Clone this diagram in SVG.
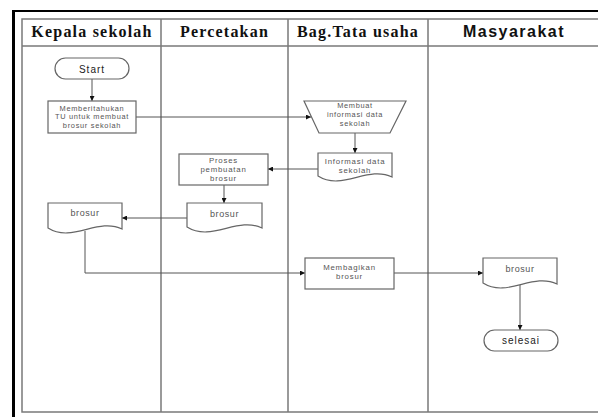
<svg xmlns="http://www.w3.org/2000/svg" width="598" height="417" viewBox="0 0 598 417">
<defs>
<marker id="ah" viewBox="0 0 10 10" refX="10" refY="5" markerWidth="5" markerHeight="5" orient="auto" markerUnits="userSpaceOnUse">
<path d="M0,0 L10,5 L0,10 Z" fill="#111"/>
</marker>
<style>
.frame{stroke:#000;fill:none}
.grid{stroke:#7a7a7a;stroke-width:1.5;fill:none}
.shape{fill:#fff;stroke:#666;stroke-width:1.2}
.conn{fill:none;stroke:#555;stroke-width:1}
.hs{font-family:"Liberation Serif","Times New Roman",serif;font-weight:bold;font-size:16px;letter-spacing:1.2px;text-anchor:middle;fill:#111}
.hsans{font-family:"Liberation Sans",Arial,sans-serif;font-weight:bold;font-size:16px;letter-spacing:1.5px;text-anchor:middle;fill:#111}
.t9{font-family:"Liberation Sans",Arial,sans-serif;font-size:7.4px;letter-spacing:0.7px;text-anchor:middle;fill:#555}
.t10{font-family:"Liberation Sans",Arial,sans-serif;font-size:7.8px;letter-spacing:0.8px;text-anchor:middle;fill:#555}
.t1{font-family:"Liberation Sans",Arial,sans-serif;font-size:9px;letter-spacing:0.6px;text-anchor:middle;fill:#555}
.tt{font-family:"Liberation Sans",Arial,sans-serif;font-size:10px;letter-spacing:1px;text-anchor:middle;fill:#222}
</style>
</defs>
<rect width="598" height="417" fill="#fff"/>
<g id="frame">
<line class="frame" x1="12" y1="11" x2="598" y2="11" stroke-width="2"/>
<line class="frame" x1="13.5" y1="10" x2="13.5" y2="417" stroke-width="3"/>
</g>
<g id="table">
<path class="grid" d="M598,19 H22 V412 H598 M22,46 H598 M161,19 V412 M288,19 V412 M428,19 V412"/>
<text class="hs" x="92" y="37">Kepala sekolah</text>
<text class="hs" x="224.5" y="37">Percetakan</text>
<text class="hs" x="358" y="37">Bag.Tata usaha</text>
<text class="hsans" x="514" y="37">Masyarakat</text>
</g>
<g id="connectors">
<path class="conn" d="M92,79 V101" marker-end="url(#ah)"/>
<path class="conn" d="M136,117 H311" marker-end="url(#ah)"/>
<path class="conn" d="M355,133 V153" marker-end="url(#ah)"/>
<path class="conn" d="M318,169 H268" marker-end="url(#ah)"/>
<path class="conn" d="M224,185 V203" marker-end="url(#ah)"/>
<path class="conn" d="M187,218 H122" marker-end="url(#ah)"/>
<path class="conn" d="M85,231 V273 H305" marker-end="url(#ah)"/>
<path class="conn" d="M394,273 H483" marker-end="url(#ah)"/>
<path class="conn" d="M520,285 V330" marker-end="url(#ah)"/>
</g>
<g id="start">
<rect class="shape" x="55" y="58" width="74" height="21" rx="10.5"/>
<text class="tt" x="92" y="72.5">Start</text>
</g>
<g id="memberitahukan">
<rect class="shape" x="48" y="101" width="88" height="32"/>
<text class="t9" x="92" y="110.5">Memberitahukan</text>
<text class="t9" x="92" y="119.3">TU untuk membuat</text>
<text class="t9" x="92" y="128.1">brosur sekolah</text>
</g>
<g id="membuat">
<path class="shape" d="M304,101 H406 L390,133 H319 Z"/>
<text class="t9" x="355" y="108">Membuat</text>
<text class="t9" x="355" y="116.8">informasi data</text>
<text class="t9" x="355" y="125.6">sekolah</text>
</g>
<g id="informasi">
<path class="shape" d="M318,153 H392 V177 C367.6,165.1 342.4,191.4 318,176 Z"/>
<text class="t10" x="355" y="163.5">Informasi data</text>
<text class="t10" x="355" y="172.7">sekolah</text>
</g>
<g id="proses">
<rect class="shape" x="179" y="154" width="89" height="31"/>
<text class="t10" x="223.5" y="162.5">Proses</text>
<text class="t10" x="223.5" y="171.6">pembuatan</text>
<text class="t10" x="223.5" y="180.7">brosur</text>
</g>
<g id="brosur-percetakan">
<path class="shape" d="M187,203 H262 V228 C237.2,216.1 211.8,242.4 187,227 Z"/>
<text class="t1" x="224.5" y="217">brosur</text>
</g>
<g id="brosur-kepala">
<path class="shape" d="M48,203 H122 V229 C97.6,217.1 72.4,243.4 48,228 Z"/>
<text class="t1" x="85" y="216">brosur</text>
</g>
<g id="membagikan">
<rect class="shape" x="305" y="258" width="89" height="31"/>
<text class="t10" x="349.5" y="270">Membagikan</text>
<text class="t10" x="349.5" y="279.3">brosur</text>
</g>
<g id="brosur-masyarakat">
<path class="shape" d="M483,258 H557 V284 C532.6,272.1 507.4,298.4 483,283 Z"/>
<text class="t1" x="520" y="272">brosur</text>
</g>
<g id="selesai">
<rect class="shape" x="484" y="330" width="74" height="21" rx="10.5"/>
<text class="tt" x="521" y="344">selesai</text>
</g>
</svg>
